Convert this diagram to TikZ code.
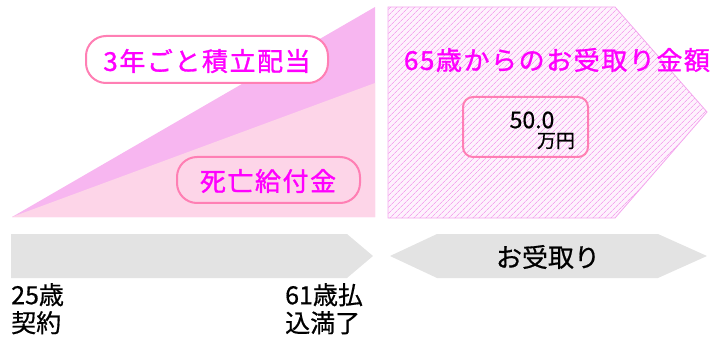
\documentclass[tikz,border=0pt]{standalone}
\usepackage{fontspec}
\newfontfamily\jp[FakeBold=0.6]{Noto Sans CJK JP}
\newfontfamily\jpsp[LetterSpace=6,FakeBold=1.2]{Noto Sans CJK JP}
\newfontfamily\jpblk[FakeBold=0.6]{Noto Sans CJK JP}
\usetikzlibrary{patterns.meta}
\definecolor{darkpk}{HTML}{F7B6F0}
\definecolor{lightpk}{HTML}{FDD5E8}
\definecolor{boxpk}{HTML}{FF7FB4}
\definecolor{mag}{HTML}{FF00FF}
\definecolor{grayar}{HTML}{E3E3E3}
\definecolor{hatchpk}{HTML}{F4A6EE}
\definecolor{hatchbg}{HTML}{FEF2FD}
\tikzset{
  pill/.style={draw=boxpk, line width=2pt, rounded corners=20pt},
  magtext/.style={text=mag, font=\jpsp\fontsize{26}{28}\selectfont, inner sep=0pt},
  blktext/.style={text=black, font=\jpblk\fontsize{25}{28}\selectfont, inner sep=0pt, align=left},
  grayarrow/.style={fill=grayar, draw=none}
}
\begin{document}
\begin{tikzpicture}[x=1pt,y=-1pt]
\useasboundingbox (0,0) rectangle (726,342);
% triangles
\fill[darkpk] (12,217) -- (375,7) -- (375,217) -- cycle;
\fill[lightpk] (12,217) -- (375,83) -- (375,217) -- cycle;
% pentagon
\path[fill=hatchbg] (388,7) -- (615,7) -- (707,112) -- (615,218) -- (388,218) -- cycle;
\path[pattern={Lines[angle=45,distance=4pt,line width=0.7pt]}, pattern color=hatchpk] (388,7) -- (615,7) -- (707,112) -- (615,218) -- (388,218) -- cycle;
\draw[hatchpk, line width=0.8pt] (388,7) -- (615,7) -- (707,112) -- (615,218) -- (388,218) -- cycle;
% pills
\draw[pill, fill=white] (86,36) rectangle (328,83);
\node[magtext] (t1) at (207,61) {3年ごと積立配当};
\draw[pill] (177,157) rectangle (360,203);
\node[magtext] (t2) at (268,181) {死亡給付金};
\node[magtext] (t3) at (557,60) {65歳からのお受取り金額};
\draw[boxpk, line width=2pt, rounded corners=10pt] (463,97) rectangle (588,157);
\node[inner sep=0pt, font=\jp\fontsize{23}{24}\selectfont] (v) at (532,120) {50.0};
\node[inner sep=0pt, font=\jp\fontsize{19}{20}\selectfont] (u) at (556,141) {万円};
% gray arrows
\fill[grayarrow] (11,234) -- (347,234) -- (373,256) -- (347,278) -- (11,278) -- cycle;
\fill[grayarrow] (390,256) -- (437,234) -- (658,234) -- (707,256) -- (658,278) -- (437,278) -- cycle;
\node[inner sep=0pt, font=\jp\fontsize{26}{28}\selectfont] (r) at (548,257) {お受取り};
\node[blktext, anchor=north west] (a) at (11,283) {25歳\\契約};
\node[blktext, anchor=north west] (b) at (285,283) {61歳払\\込満了};
\end{tikzpicture}
\end{document}
